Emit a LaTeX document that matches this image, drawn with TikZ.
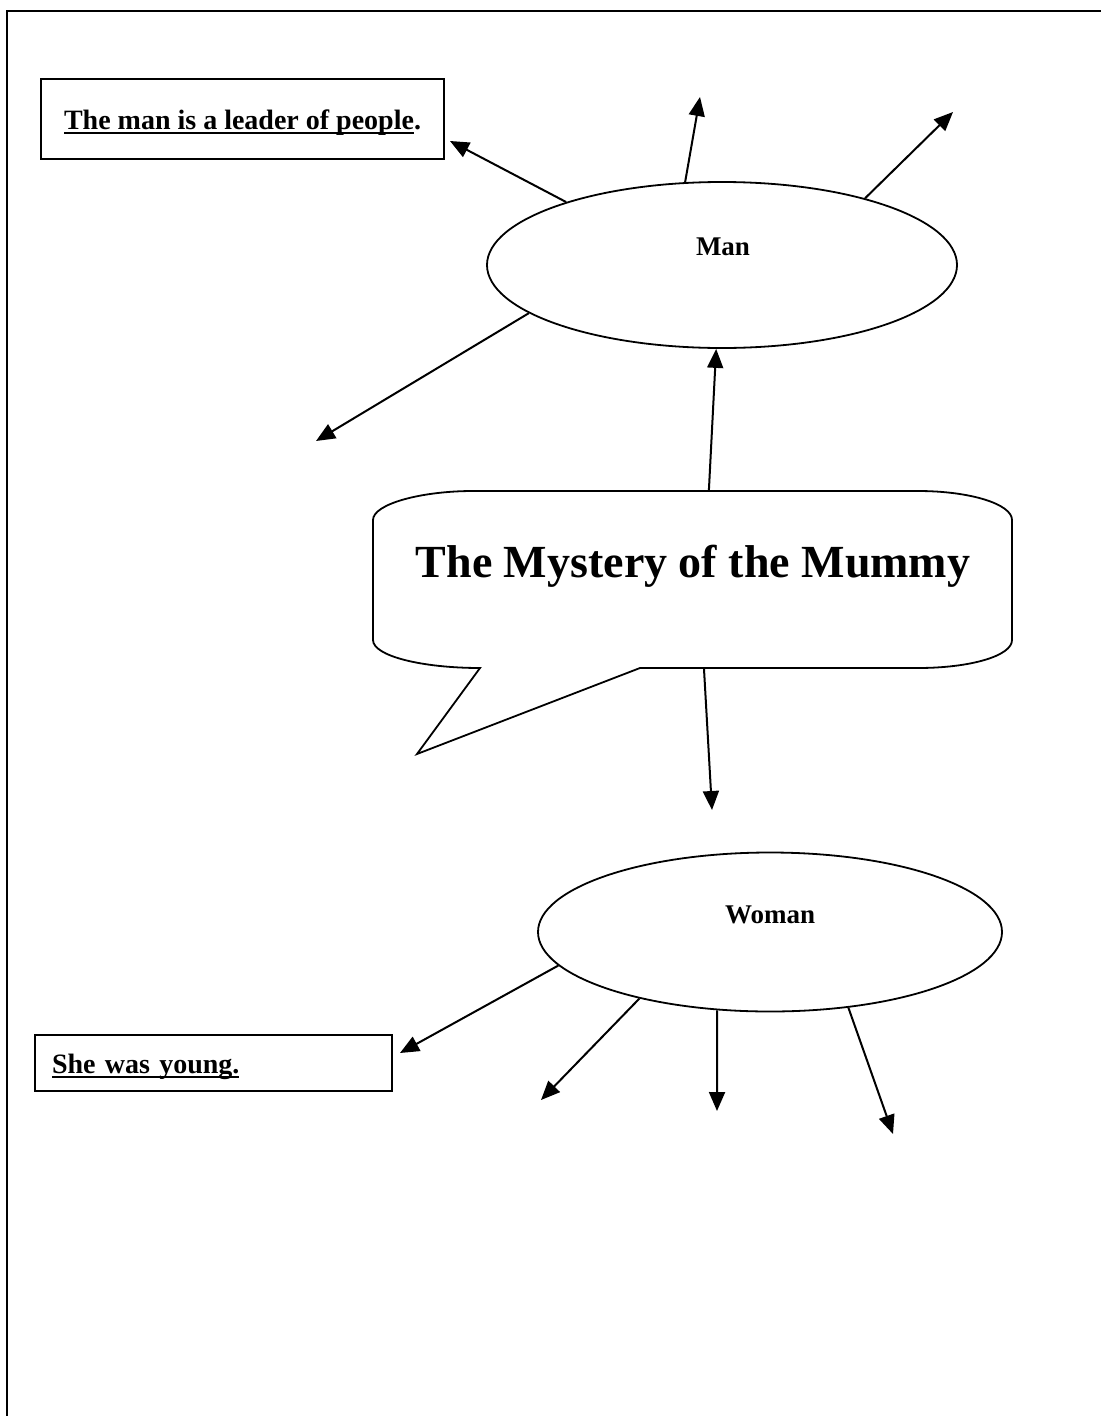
\documentclass[tikz,border=0pt]{standalone}
\usepackage{fontspec}
\setmainfont{Liberation Serif}
\usetikzlibrary{shapes.geometric,arrows.meta}

\newcommand\undl[1]{\setbox0\hbox{#1}\rlap{\raisebox{-4.5pt}{\rule{\wd0}{1.6pt}}}\box0}

\tikzset{
	oval/.style={ellipse, draw, line width=1.8pt, inner sep=0pt},
	note/.style={rectangle, draw, line width=2pt, inner sep=0pt, font=\fontsize{28}{32}\selectfont\bfseries},
	lbl/.style={font=\fontsize{27}{32}\selectfont\bfseries},
	arr/.style={-{Triangle[length=19pt,width=16pt]}, line width=2pt},
}

\begin{document}
	\begin{tikzpicture}[x=1pt,y=-1pt]
		\useasboundingbox (0,0) rectangle (1105,1416);
		\draw[line width=2pt] (7,1416) -- (7,11) -- (1101,11);

		\node[note, minimum width=403pt, minimum height=80pt, text height=20pt, text depth=0pt] (lead) at (242.5,119) {\undl{The man is a leader of people}.};
		\node[note, minimum width=357pt, minimum height=56pt, text width=323pt, align=left, text height=20pt, text depth=0pt] (young) at (213.5,1063) {\undl{She was young.}};

		\node[oval, minimum width=470pt, minimum height=166pt] (man) at (722,265) {};
		\node[lbl] (man_txt) at (723,247) {Man};
		\node[oval, minimum width=464pt, minimum height=159pt] (woman) at (770,932) {};
		\node[lbl] (woman_txt) at (770,915) {Woman};

		% speech bubble
		\draw[line width=1.8pt] (473,491) -- coordinate[pos=0.53] (bub_top) (918,491)
			.. controls (970,491) and (1012,504) .. (1012,520) -- (1012,640)
			.. controls (1012,656) and (970,668) .. (918,668) -- coordinate[pos=0.77] (bub_bot) (640,668)
			-- (417,754) -- (480,668)
			.. controls (422,668) and (373,656) .. (373,640) -- (373,520)
			.. controls (373,504) and (421,491) .. cycle;
		\node[font=\fontsize{46}{50}\selectfont\bfseries, anchor=base] (title) at (693,577) {The Mystery of the Mummy};

		\coordinate (m_up) at (700,97);
		\coordinate (m_ne) at (953,112);
		\coordinate (m_sw) at (316,441);
		\coordinate (lead_tip) at (450,141);
		\coordinate (t_down) at (712,810);
		\coordinate (young_tip) at (400,1053);
		\coordinate (w_sw) at (541,1100);
		\coordinate (w_s) at (717,1111);
		\coordinate (w_se) at (893,1134);

		\draw[arr] (man.158) -- (lead_tip);
		\draw[arr] (man.114) -- (m_up);
		\draw[arr] (man.25) -- (m_ne);
		\draw[arr] (man.194) -- (m_sw);
		\draw[arr] (bub_top) -- (man.266);
		\draw[arr] (bub_bot) -- (t_down);

		\draw[arr] (woman.189) -- (young_tip);
		\draw[arr] (woman.207) -- (w_sw);
		\draw[arr] (woman.236) -- (w_s);
		\draw[arr] (woman.316) -- (w_se);
	\end{tikzpicture}
\end{document}
